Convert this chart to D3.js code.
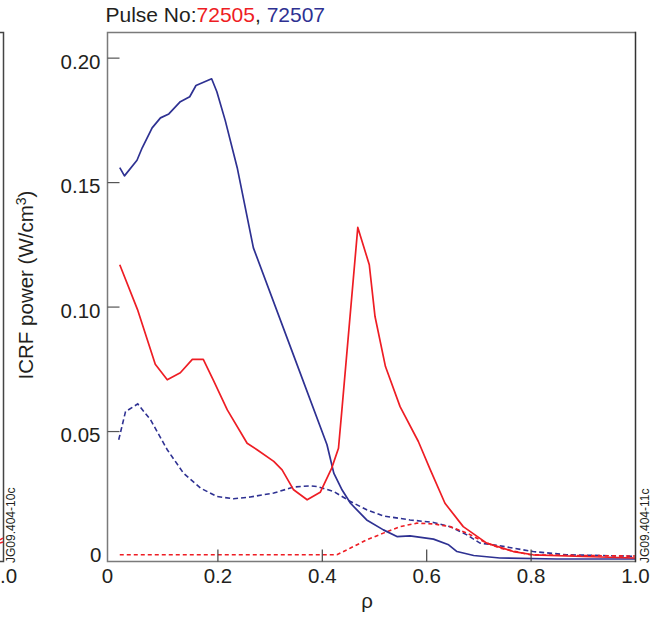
<!DOCTYPE html>
<html><head><meta charset="utf-8">
<script src="https://cdn.jsdelivr.net/npm/d3@7"></script>
<style>body{margin:0;background:#fff}svg{display:block}text{font-family:"Liberation Sans",Arial,sans-serif;fill:#231f20}</style>
</head><body><svg id="c" width="664" height="621"></svg>
<script>
const xTicks=[0.2,0.4,0.6,0.8];
const xTickLabels=["0","0.2","0.4","0.6","0.8","1.0"];
const xLabelVals=[0,0.2,0.4,0.6,0.8,1.0];
const yTicks=[0.05,0.10,0.15,0.20];
const yTickLabels=["0.05","0.10","0.15","0.20"];
const pulses=["72505","72507"];

const rhoBlueSolid=[0.012,0.021,0.045,0.055,0.074,0.09,0.106,0.128,0.146,0.158,0.188,0.198,0.214,0.237,0.268,0.34,0.409,0.422,0.438,0.454,0.485,0.517,0.543,0.568,0.613,0.642,0.658,0.69,0.74,0.85,1.0];
const valBlueSolid=[0.156,0.1527,0.159,0.164,0.172,0.176,0.1776,0.1825,0.1845,0.189,0.1917,0.1865,0.175,0.156,0.1238,0.0834,0.0447,0.0333,0.0265,0.0212,0.0145,0.0105,0.0078,0.0081,0.0068,0.0045,0.0018,0.0002,-0.0008,-0.0012,-0.0012];

const rhoRedSolid=[0.012,0.046,0.08,0.103,0.128,0.151,0.172,0.191,0.218,0.256,0.275,0.307,0.323,0.345,0.371,0.396,0.418,0.431,0.437,0.468,0.49,0.501,0.521,0.549,0.584,0.607,0.635,0.67,0.715,0.766,0.804,0.9,1.0];
const valRedSolid=[0.117,0.099,0.077,0.0708,0.0736,0.079,0.079,0.0708,0.0587,0.0453,0.0427,0.038,0.0346,0.0266,0.0226,0.0256,0.0353,0.0433,0.0574,0.132,0.117,0.0962,0.0761,0.06,0.046,0.0346,0.0212,0.0118,0.0052,0.0018,0.0005,-0.0002,-0.0008];

const rhoRedDash=[0.012,0.428,0.454,0.485,0.517,0.549,0.581,0.613,0.645,0.677,0.709,0.74,0.798,0.9,1.0];
const valRedDash=[0.0005,0.0005,0.0032,0.0065,0.0092,0.0118,0.0132,0.0129,0.0118,0.0092,0.0058,0.0032,0.0005,0.0002,0.0];

const rhoBlueDash=[0.01,0.023,0.0465,0.071,0.103,0.134,0.1665,0.198,0.23,0.262,0.307,0.345,0.377,0.39,0.422,0.454,0.485,0.517,0.568,0.613,0.645,0.677,0.702,0.74,0.804,0.868,1.0];
const valBlueDash=[0.0467,0.058,0.0611,0.0547,0.0427,0.0333,0.0273,0.0239,0.023,0.0237,0.0253,0.0277,0.0282,0.0279,0.0259,0.0219,0.0186,0.0161,0.0145,0.0135,0.0118,0.0085,0.0052,0.0041,0.0018,0.0005,-0.0001];

const RED="#ee1d24", BLUE="#2e3192";
const svg=d3.select("#c");
const L=107.5,R=635.5,T=32.5,B=561.5;
const x=d3.scaleLinear().domain([-0.0115,1.0]).range([L,R]);
const y=d3.scaleLinear().domain([-0.0022,0.2103]).range([B,T]);

// left neighbour panel fragment
svg.append("path").attr("d",`M0,${T}H3.5V${B}H0`).attr("fill","none").attr("stroke","#444").attr("stroke-width",1.5);
svg.append("path").attr("d","M0,540L3,538M0,543L3,542").attr("stroke",RED).attr("stroke-width",1.5);
svg.append("text").attr("x",0).attr("y",582.5).attr("font-size","20.5px").text(".0");
svg.append("text").attr("transform","translate(15,563) rotate(-90)").attr("font-size","12px").text("JG09.404-10c");

// title
const tt=svg.append("text").attr("x",105.5).attr("y",21.5).attr("font-size","21px");
tt.append("tspan").text("Pulse No:");
tt.append("tspan").attr("fill",RED).style("fill",RED).text(pulses[0]);
tt.append("tspan").text(", ");
tt.append("tspan").attr("fill",BLUE).style("fill",BLUE).text(pulses[1]);

// data lines
const line=(xs,ys)=>d3.line().x((d,i)=>x(xs[i])).y((d,i)=>y(ys[i]))(xs);
const g=svg.append("g");
g.append("path").attr("d",line(rhoBlueDash,valBlueDash)).attr("fill","none").attr("stroke",BLUE).attr("stroke-width",1.6).attr("stroke-dasharray","5,3");
g.append("path").attr("d",line(rhoRedDash,valRedDash)).attr("fill","none").attr("stroke",RED).attr("stroke-width",1.6).attr("stroke-dasharray","4,3");
g.append("path").attr("d",line(rhoBlueSolid,valBlueSolid)).attr("fill","none").attr("stroke",BLUE).attr("stroke-width",1.7).attr("stroke-linejoin","round");
g.append("path").attr("d",line(rhoRedSolid,valRedSolid)).attr("fill","none").attr("stroke",RED).attr("stroke-width",1.7).attr("stroke-linejoin","round");

// frame
svg.append("path").attr("d",`M${R},${T}H${L}V${B}H${R}`).attr("fill","none").attr("stroke","#7a7a7a").attr("stroke-width",1.5);
svg.append("path").attr("d",`M${R},${T-0.75}V${B+0.75}`).attr("stroke","#333").attr("stroke-width",1.5);

// ticks (inward)
svg.selectAll(".xt").data(xTicks).join("line").attr("x1",d=>x(d)).attr("x2",d=>x(d)).attr("y1",B).attr("y2",B-12).attr("stroke","#444").attr("stroke-width",1.2);
svg.selectAll(".yt").data(yTicks).join("line").attr("y1",d=>y(d)).attr("y2",d=>y(d)).attr("x1",L).attr("x2",L+12).attr("stroke","#555").attr("stroke-width",1.2);

// tick labels
svg.selectAll(".xl").data(xLabelVals).join("text").attr("x",(d,i)=>i===0?L:x(d)).attr("y",582.5).attr("text-anchor","middle").attr("font-size","20.5px").text((d,i)=>xTickLabels[i]);
svg.selectAll(".yl").data(yTicks).join("text").attr("x",100.5).attr("y",d=>y(d)+10.7).attr("text-anchor","end").attr("font-size","20.5px").text((d,i)=>yTickLabels[i]);
svg.append("text").attr("x",101.5).attr("y",562).attr("text-anchor","end").attr("font-size","20.5px").text("0");

// axis titles
svg.append("text").attr("x",367).attr("y",608).attr("text-anchor","middle").attr("font-size","20.5px").text("ρ");
const yl=svg.append("text").attr("transform","translate(32.5,285) rotate(-90)").attr("text-anchor","middle").attr("font-size","20.5px");
yl.append("tspan").text("ICRF power (W/cm");
yl.append("tspan").attr("font-size","14px").attr("dy","-7").text("3");
yl.append("tspan").attr("dy","7").text(")");

svg.append("text").attr("transform","translate(649,563) rotate(-90)").attr("font-size","12px").text("JG09.404-11c");
</script></body></html>
